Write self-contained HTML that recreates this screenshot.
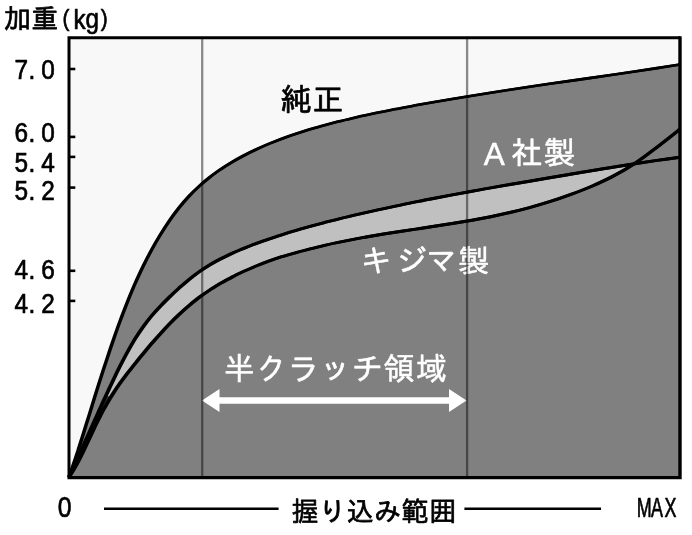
<!DOCTYPE html>
<html lang="ja">
<head>
<meta charset="utf-8">
<title>加重(kg) 握り込み範囲</title>
<style>
html,body{margin:0;padding:0;background:#fff;}
body{width:692px;height:535px;overflow:hidden;}
svg{display:block;}
text{font-family:"Liberation Sans", "IPAGothic", sans-serif;}
.ax,.jp{fill:#000;stroke:#000;stroke-width:0.7;stroke-linejoin:round;}
.w{fill:#fff;stroke:#fff;stroke-width:0.5;stroke-linejoin:round;}
</style>
</head>
<body>
<svg width="692" height="535" viewBox="0 0 692 535">
<rect x="0" y="0" width="692" height="535" fill="#ffffff"/>
<rect x="69" y="37.7" width="611" height="439.9" fill="#f8f8f8"/>
<path d="M69.0 477.0 C69.8 474.8 72.1 468.4 73.6 463.7 C75.2 459.1 76.8 454.2 78.5 449.0 C80.1 443.9 81.8 438.5 83.6 433.0 C85.3 427.4 87.1 421.6 89.0 415.7 C90.8 409.7 92.7 403.6 94.6 397.4 C96.6 391.2 98.5 384.8 100.6 378.4 C102.6 372.0 104.7 365.5 106.9 359.1 C109.0 352.6 111.2 346.0 113.5 339.5 C115.7 333.1 118.0 326.5 120.4 320.1 C122.8 313.8 125.2 307.4 127.7 301.2 C130.2 295.1 132.7 289.0 135.3 283.1 C137.9 277.2 140.6 271.5 143.3 265.9 C146.0 260.4 148.8 255.0 151.6 249.8 C154.5 244.5 157.4 239.5 160.4 234.6 C163.3 229.8 166.4 225.1 169.4 220.7 C172.5 216.2 175.7 212.0 178.9 207.9 C182.1 203.9 185.4 200.1 188.7 196.5 C192.1 192.9 195.5 189.5 199.0 186.4 C202.5 183.2 206.0 180.2 209.6 177.4 C213.2 174.5 216.9 171.9 220.6 169.3 C224.4 166.8 228.2 164.4 232.0 162.1 C235.9 159.8 239.9 157.6 243.9 155.5 C247.9 153.4 251.9 151.4 256.1 149.5 C260.2 147.6 264.4 145.7 268.7 143.9 C273.0 142.2 277.4 140.5 281.8 138.8 C286.2 137.2 290.7 135.6 295.3 134.1 C299.8 132.6 304.5 131.1 309.2 129.6 C313.9 128.2 318.6 126.8 323.5 125.5 C328.3 124.2 333.2 122.9 338.2 121.6 C343.2 120.3 348.3 119.1 353.4 117.9 C358.5 116.7 363.7 115.6 369.0 114.5 C374.3 113.3 379.7 112.2 385.1 111.2 C390.5 110.1 396.0 109.0 401.6 108.0 C407.1 106.9 412.8 105.9 418.5 104.8 C424.2 103.8 430.0 102.8 435.9 101.7 C441.7 100.7 447.7 99.7 453.7 98.7 C459.7 97.7 465.8 96.7 472.0 95.7 C478.1 94.7 484.4 93.7 490.7 92.7 C497.0 91.7 503.4 90.7 509.9 89.7 C516.4 88.8 522.9 87.8 529.5 86.8 C536.2 85.8 542.9 84.8 549.6 83.8 C556.4 82.9 563.3 81.9 570.2 80.9 C577.1 79.9 584.1 78.9 591.2 77.9 C598.3 76.8 605.5 75.8 612.7 74.7 C619.9 73.7 627.3 72.6 634.7 71.5 C642.1 70.4 649.5 69.3 657.1 68.1 C664.7 66.9 676.2 65.1 680.0 64.5 L680.0 477.6 L69.0 477.6 Z" fill="#808080"/>
<path d="M105.0 397.7 C106.3 394.9 110.1 386.6 112.7 381.1 C115.4 375.6 118.1 369.9 120.9 364.4 C123.7 359.0 126.6 353.4 129.6 348.2 C132.5 343.0 135.6 338.0 138.7 333.3 C141.8 328.6 145.0 324.2 148.3 320.0 C151.6 315.9 155.0 312.0 158.4 308.3 C161.9 304.5 165.4 301.0 169.1 297.4 C172.7 293.9 176.4 290.4 180.2 287.1 C184.0 283.7 187.9 280.3 191.9 277.2 C195.9 274.1 200.0 271.1 204.2 268.4 C208.3 265.7 212.6 263.2 217.0 260.8 C221.3 258.4 225.8 256.3 230.3 254.2 C234.8 252.1 239.5 250.1 244.2 248.2 C248.9 246.3 253.7 244.4 258.7 242.6 C263.6 240.9 268.6 239.1 273.7 237.4 C278.8 235.8 284.0 234.1 289.3 232.5 C294.6 230.9 300.0 229.3 305.5 227.7 C311.0 226.2 316.6 224.7 322.3 223.2 C328.0 221.7 333.8 220.2 339.7 218.7 C345.6 217.3 351.5 215.8 357.6 214.4 C363.7 213.0 369.9 211.6 376.2 210.2 C382.5 208.8 388.9 207.4 395.4 206.1 C401.9 204.7 408.5 203.4 415.2 202.0 C421.9 200.7 428.7 199.4 435.6 198.0 C442.5 196.7 449.5 195.4 456.7 194.1 C463.8 192.7 471.0 191.4 478.3 190.1 C485.6 188.8 493.1 187.5 500.6 186.2 C508.1 184.8 515.8 183.5 523.5 182.2 C531.3 180.9 539.1 179.5 547.1 178.2 C555.0 176.8 563.1 175.5 571.3 174.1 C579.5 172.7 587.7 171.3 596.1 170.0 C604.5 168.6 615.3 166.9 621.6 165.9 C627.9 164.8 631.9 164.3 633.9 163.9 L633.9 163.9 C630.6 165.9 621.5 171.8 613.9 175.8 C606.3 179.7 596.9 184.1 588.6 187.6 C580.3 191.1 572.1 194.1 564.0 197.0 C555.8 199.8 547.8 202.3 539.9 204.6 C532.1 207.0 524.3 209.0 516.6 210.9 C508.9 212.8 501.3 214.5 493.8 216.0 C486.4 217.6 479.0 218.9 471.7 220.2 C464.5 221.5 457.3 222.7 450.3 223.8 C443.2 224.9 436.3 226.0 429.4 227.0 C422.6 228.1 415.8 229.0 409.2 230.1 C402.6 231.1 396.0 232.1 389.6 233.1 C383.1 234.1 376.8 235.2 370.6 236.3 C364.3 237.3 358.2 238.5 352.2 239.6 C346.1 240.8 340.2 242.0 334.4 243.2 C328.6 244.5 322.8 245.8 317.2 247.1 C311.6 248.5 306.0 249.9 300.6 251.3 C295.1 252.8 289.8 254.3 284.6 255.9 C279.3 257.5 274.2 259.2 269.1 261.0 C264.1 262.8 259.1 264.7 254.3 266.7 C249.4 268.8 244.6 270.9 240.0 273.2 C235.3 275.4 230.7 277.8 226.2 280.2 C221.8 282.7 217.4 285.2 213.1 287.9 C208.8 290.6 204.6 293.4 200.4 296.5 C196.3 299.5 192.3 302.7 188.4 306.1 C184.4 309.4 180.6 313.0 176.8 316.6 C173.1 320.2 169.4 324.0 165.8 327.8 C162.2 331.5 158.7 335.4 155.3 339.3 C151.9 343.2 148.6 347.1 145.4 351.0 C142.1 354.9 139.0 358.7 135.9 362.6 C132.8 366.4 129.8 370.1 126.9 373.9 C124.0 377.8 121.2 381.6 118.4 385.6 C115.7 389.5 111.7 395.8 110.4 397.8Z" fill="#c0c0c0"/>
<path d="M69.0 477.0 C69.4 476.2 70.4 473.9 71.2 472.3 C71.9 470.8 72.6 469.2 73.4 467.6 C74.1 465.9 74.9 464.3 75.6 462.6 C76.4 461.0 77.1 459.3 77.9 457.6 C78.7 455.9 79.5 454.2 80.3 452.4 C81.1 450.7 81.9 448.9 82.7 447.1 C83.5 445.3 84.3 443.5 85.2 441.6 C86.0 439.8 86.8 437.9 87.7 436.0 C88.5 434.1 89.4 432.2 90.3 430.2 C91.2 428.3 92.1 426.3 93.0 424.3 C93.9 422.3 94.8 420.3 95.7 418.3 C96.6 416.2 97.5 414.1 98.5 412.1 C99.4 410.0 100.4 407.9 101.4 405.7 C102.3 403.6 103.6 400.9 104.3 399.3 C105.0 397.7 105.5 396.6 105.8 396.0 L111.2 396.6 C111.0 396.8 111.0 396.7 110.4 397.8 C109.7 398.9 108.3 401.2 107.3 403.0 C106.3 404.7 105.3 406.5 104.3 408.2 C103.3 410.0 102.3 411.9 101.4 413.7 C100.4 415.5 99.4 417.4 98.5 419.3 C97.5 421.2 96.6 423.1 95.7 425.0 C94.8 427.0 93.9 428.9 93.0 430.8 C92.1 432.7 91.2 434.6 90.3 436.5 C89.4 438.4 88.5 440.2 87.7 442.1 C86.8 443.9 86.0 445.7 85.2 447.5 C84.3 449.2 83.5 450.9 82.7 452.6 C81.9 454.3 81.1 455.9 80.3 457.5 C79.5 459.1 78.7 460.6 77.9 462.1 C77.1 463.6 76.4 465.0 75.6 466.4 C74.9 467.7 74.1 469.0 73.4 470.3 C72.6 471.5 71.9 472.7 71.2 473.8 C70.4 474.9 69.4 476.5 69.0 477.0Z" fill="#3a3a3a"/>
<g fill="none" stroke="#000" stroke-linejoin="round">
<g transform="translate(-0.45 0)">
<path d="M69.0 477.0 C69.8 474.8 72.1 468.4 73.6 463.7 C75.2 459.1 76.8 454.2 78.5 449.0 C80.1 443.9 81.8 438.5 83.6 433.0 C85.3 427.4 87.1 421.6 89.0 415.7 C90.8 409.7 92.7 403.6 94.6 397.4 C96.6 391.2 98.5 384.8 100.6 378.4 C102.6 372.0 104.7 365.5 106.9 359.1 C109.0 352.6 111.2 346.0 113.5 339.5 C115.7 333.1 118.0 326.5 120.4 320.1 C122.8 313.8 125.2 307.4 127.7 301.2 C130.2 295.1 132.7 289.0 135.3 283.1 C137.9 277.2 140.6 271.5 143.3 265.9 C146.0 260.4 148.8 255.0 151.6 249.8 C154.5 244.5 157.4 239.5 160.4 234.6 C163.3 229.8 166.4 225.1 169.4 220.7 C172.5 216.2 175.7 212.0 178.9 207.9 C182.1 203.9 185.4 200.1 188.7 196.5 C192.1 192.9 195.5 189.5 199.0 186.4 C202.5 183.2 206.0 180.2 209.6 177.4 C213.2 174.5 216.9 171.9 220.6 169.3 C224.4 166.8 228.2 164.4 232.0 162.1 C235.9 159.8 239.9 157.6 243.9 155.5 C247.9 153.4 251.9 151.4 256.1 149.5 C260.2 147.6 264.4 145.7 268.7 143.9 C273.0 142.2 277.4 140.5 281.8 138.8 C286.2 137.2 290.7 135.6 295.3 134.1 C299.8 132.6 304.5 131.1 309.2 129.6 C313.9 128.2 318.6 126.8 323.5 125.5 C328.3 124.2 333.2 122.9 338.2 121.6 C343.2 120.3 348.3 119.1 353.4 117.9 C358.5 116.7 363.7 115.6 369.0 114.5 C374.3 113.3 379.7 112.2 385.1 111.2 C390.5 110.1 396.0 109.0 401.6 108.0 C407.1 106.9 412.8 105.9 418.5 104.8 C424.2 103.8 430.0 102.8 435.9 101.7 C441.7 100.7 447.7 99.7 453.7 98.7 C459.7 97.7 465.8 96.7 472.0 95.7 C478.1 94.7 484.4 93.7 490.7 92.7 C497.0 91.7 503.4 90.7 509.9 89.7 C516.4 88.8 522.9 87.8 529.5 86.8 C536.2 85.8 542.9 84.8 549.6 83.8 C556.4 82.9 563.3 81.9 570.2 80.9 C577.1 79.9 584.1 78.9 591.2 77.9 C598.3 76.8 605.5 75.8 612.7 74.7 C619.9 73.7 627.3 72.6 634.7 71.5 C642.1 70.4 649.5 69.3 657.1 68.1 C664.7 66.9 676.2 65.1 680.0 64.5" stroke-width="2.6"/>
<path d="M69.0 477.0 C69.8 475.3 72.1 470.4 73.6 467.0 C75.2 463.5 76.8 460.0 78.5 456.3 C80.1 452.7 81.8 449.0 83.6 445.1 C85.3 441.2 87.1 437.3 89.0 433.2 C90.8 429.1 92.7 424.9 94.6 420.6 C96.6 416.3 98.5 411.9 100.6 407.4 C102.6 402.9 104.7 398.3 106.9 393.7 C109.0 389.0 111.2 384.3 113.5 379.6 C115.7 374.9 118.0 370.1 120.4 365.4 C122.8 360.7 125.2 356.1 127.7 351.6 C130.2 347.1 132.7 342.6 135.3 338.5 C137.9 334.3 140.6 330.4 143.3 326.6 C146.0 322.9 148.8 319.3 151.6 315.9 C154.5 312.5 157.4 309.3 160.4 306.2 C163.3 303.1 166.4 300.1 169.4 297.1 C172.5 294.1 175.7 291.1 178.9 288.2 C182.1 285.4 185.4 282.5 188.7 279.8 C192.1 277.1 195.5 274.4 199.0 271.9 C202.5 269.5 206.0 267.2 209.6 265.0 C213.2 262.8 216.9 260.8 220.6 258.9 C224.4 257.0 228.2 255.2 232.0 253.4 C235.9 251.6 239.9 250.0 243.9 248.3 C247.9 246.7 251.9 245.1 256.1 243.6 C260.2 242.0 264.4 240.6 268.7 239.1 C273.0 237.6 277.4 236.2 281.8 234.8 C286.2 233.4 290.7 232.0 295.3 230.7 C299.8 229.3 304.5 228.0 309.2 226.7 C313.9 225.4 318.6 224.1 323.5 222.8 C328.3 221.6 333.2 220.3 338.2 219.1 C343.2 217.8 348.3 216.6 353.4 215.4 C358.5 214.2 363.7 213.0 369.0 211.8 C374.3 210.6 379.7 209.4 385.1 208.3 C390.5 207.1 396.0 205.9 401.6 204.8 C407.1 203.6 412.8 202.5 418.5 201.4 C424.2 200.2 430.0 199.1 435.9 198.0 C441.7 196.9 447.7 195.7 453.7 194.6 C459.7 193.5 465.8 192.4 472.0 191.3 C478.1 190.1 484.4 189.0 490.7 187.9 C497.0 186.8 503.4 185.7 509.9 184.5 C516.4 183.4 522.9 182.3 529.5 181.2 C536.2 180.0 542.9 178.9 549.6 177.7 C556.4 176.6 563.3 175.4 570.2 174.3 C577.1 173.1 584.1 171.9 591.2 170.8 C598.3 169.6 605.5 168.4 612.7 167.3 C619.9 166.1 627.3 165.0 634.7 163.8 C642.1 162.7 649.5 161.5 657.1 160.4 C664.7 159.3 676.2 157.8 680.0 157.2" stroke-width="2.9"/>
<path d="M69.0 477.0 C69.8 475.8 72.1 472.5 73.6 469.8 C75.2 467.2 76.8 464.2 78.5 461.0 C80.1 457.8 81.8 454.4 83.6 450.8 C85.3 447.1 87.1 443.3 89.0 439.4 C90.8 435.4 92.7 431.3 94.6 427.3 C96.6 423.2 98.5 419.1 100.6 415.2 C102.6 411.2 104.7 407.4 106.9 403.7 C109.0 400.0 111.2 396.4 113.5 392.9 C115.7 389.4 118.0 386.1 120.4 382.7 C122.8 379.4 125.2 376.2 127.7 372.9 C130.2 369.7 132.7 366.5 135.3 363.3 C137.9 360.0 140.6 356.7 143.3 353.5 C146.0 350.2 148.8 346.8 151.6 343.5 C154.5 340.3 157.4 336.9 160.4 333.7 C163.3 330.4 166.4 327.1 169.4 324.0 C172.5 320.8 175.7 317.6 178.9 314.6 C182.1 311.6 185.4 308.6 188.7 305.8 C192.1 302.9 195.5 300.2 199.0 297.5 C202.5 294.9 206.0 292.5 209.6 290.1 C213.2 287.7 216.9 285.5 220.6 283.3 C224.4 281.2 228.2 279.1 232.0 277.1 C235.9 275.1 239.9 273.2 243.9 271.3 C247.9 269.5 251.9 267.7 256.1 266.0 C260.2 264.3 264.4 262.7 268.7 261.1 C273.0 259.6 277.4 258.1 281.8 256.7 C286.2 255.4 290.7 254.0 295.3 252.8 C299.8 251.5 304.5 250.3 309.2 249.1 C313.9 247.9 318.6 246.7 323.5 245.6 C328.3 244.5 333.2 243.4 338.2 242.4 C343.2 241.4 348.3 240.4 353.4 239.4 C358.5 238.4 363.7 237.5 369.0 236.5 C374.3 235.6 379.7 234.7 385.1 233.8 C390.5 232.9 396.0 232.1 401.6 231.2 C407.1 230.4 412.8 229.5 418.5 228.7 C424.2 227.8 430.0 226.9 435.9 226.0 C441.7 225.1 447.7 224.2 453.7 223.3 C459.7 222.3 465.8 221.3 472.0 220.2 C478.1 219.1 484.4 217.9 490.7 216.7 C497.0 215.4 503.4 214.0 509.9 212.5 C516.4 211.0 522.9 209.4 529.5 207.6 C536.2 205.8 542.9 203.8 549.6 201.7 C556.4 199.6 563.3 197.3 570.2 194.7 C577.1 192.2 584.1 189.6 591.2 186.5 C598.3 183.4 605.5 180.2 612.7 176.4 C619.9 172.6 627.3 168.4 634.7 163.5 C642.1 158.7 649.5 152.9 657.1 147.1 C664.7 141.4 676.2 132.2 680.0 129.2" stroke-width="2.9"/>
</g>
<g transform="translate(0.45 0)">
<path d="M69.0 477.0 C69.8 474.8 72.1 468.4 73.6 463.7 C75.2 459.1 76.8 454.2 78.5 449.0 C80.1 443.9 81.8 438.5 83.6 433.0 C85.3 427.4 87.1 421.6 89.0 415.7 C90.8 409.7 92.7 403.6 94.6 397.4 C96.6 391.2 98.5 384.8 100.6 378.4 C102.6 372.0 104.7 365.5 106.9 359.1 C109.0 352.6 111.2 346.0 113.5 339.5 C115.7 333.1 118.0 326.5 120.4 320.1 C122.8 313.8 125.2 307.4 127.7 301.2 C130.2 295.1 132.7 289.0 135.3 283.1 C137.9 277.2 140.6 271.5 143.3 265.9 C146.0 260.4 148.8 255.0 151.6 249.8 C154.5 244.5 157.4 239.5 160.4 234.6 C163.3 229.8 166.4 225.1 169.4 220.7 C172.5 216.2 175.7 212.0 178.9 207.9 C182.1 203.9 185.4 200.1 188.7 196.5 C192.1 192.9 195.5 189.5 199.0 186.4 C202.5 183.2 206.0 180.2 209.6 177.4 C213.2 174.5 216.9 171.9 220.6 169.3 C224.4 166.8 228.2 164.4 232.0 162.1 C235.9 159.8 239.9 157.6 243.9 155.5 C247.9 153.4 251.9 151.4 256.1 149.5 C260.2 147.6 264.4 145.7 268.7 143.9 C273.0 142.2 277.4 140.5 281.8 138.8 C286.2 137.2 290.7 135.6 295.3 134.1 C299.8 132.6 304.5 131.1 309.2 129.6 C313.9 128.2 318.6 126.8 323.5 125.5 C328.3 124.2 333.2 122.9 338.2 121.6 C343.2 120.3 348.3 119.1 353.4 117.9 C358.5 116.7 363.7 115.6 369.0 114.5 C374.3 113.3 379.7 112.2 385.1 111.2 C390.5 110.1 396.0 109.0 401.6 108.0 C407.1 106.9 412.8 105.9 418.5 104.8 C424.2 103.8 430.0 102.8 435.9 101.7 C441.7 100.7 447.7 99.7 453.7 98.7 C459.7 97.7 465.8 96.7 472.0 95.7 C478.1 94.7 484.4 93.7 490.7 92.7 C497.0 91.7 503.4 90.7 509.9 89.7 C516.4 88.8 522.9 87.8 529.5 86.8 C536.2 85.8 542.9 84.8 549.6 83.8 C556.4 82.9 563.3 81.9 570.2 80.9 C577.1 79.9 584.1 78.9 591.2 77.9 C598.3 76.8 605.5 75.8 612.7 74.7 C619.9 73.7 627.3 72.6 634.7 71.5 C642.1 70.4 649.5 69.3 657.1 68.1 C664.7 66.9 676.2 65.1 680.0 64.5" stroke-width="2.6"/>
<path d="M69.0 477.0 C69.8 475.3 72.1 470.4 73.6 467.0 C75.2 463.5 76.8 460.0 78.5 456.3 C80.1 452.7 81.8 449.0 83.6 445.1 C85.3 441.2 87.1 437.3 89.0 433.2 C90.8 429.1 92.7 424.9 94.6 420.6 C96.6 416.3 98.5 411.9 100.6 407.4 C102.6 402.9 104.7 398.3 106.9 393.7 C109.0 389.0 111.2 384.3 113.5 379.6 C115.7 374.9 118.0 370.1 120.4 365.4 C122.8 360.7 125.2 356.1 127.7 351.6 C130.2 347.1 132.7 342.6 135.3 338.5 C137.9 334.3 140.6 330.4 143.3 326.6 C146.0 322.9 148.8 319.3 151.6 315.9 C154.5 312.5 157.4 309.3 160.4 306.2 C163.3 303.1 166.4 300.1 169.4 297.1 C172.5 294.1 175.7 291.1 178.9 288.2 C182.1 285.4 185.4 282.5 188.7 279.8 C192.1 277.1 195.5 274.4 199.0 271.9 C202.5 269.5 206.0 267.2 209.6 265.0 C213.2 262.8 216.9 260.8 220.6 258.9 C224.4 257.0 228.2 255.2 232.0 253.4 C235.9 251.6 239.9 250.0 243.9 248.3 C247.9 246.7 251.9 245.1 256.1 243.6 C260.2 242.0 264.4 240.6 268.7 239.1 C273.0 237.6 277.4 236.2 281.8 234.8 C286.2 233.4 290.7 232.0 295.3 230.7 C299.8 229.3 304.5 228.0 309.2 226.7 C313.9 225.4 318.6 224.1 323.5 222.8 C328.3 221.6 333.2 220.3 338.2 219.1 C343.2 217.8 348.3 216.6 353.4 215.4 C358.5 214.2 363.7 213.0 369.0 211.8 C374.3 210.6 379.7 209.4 385.1 208.3 C390.5 207.1 396.0 205.9 401.6 204.8 C407.1 203.6 412.8 202.5 418.5 201.4 C424.2 200.2 430.0 199.1 435.9 198.0 C441.7 196.9 447.7 195.7 453.7 194.6 C459.7 193.5 465.8 192.4 472.0 191.3 C478.1 190.1 484.4 189.0 490.7 187.9 C497.0 186.8 503.4 185.7 509.9 184.5 C516.4 183.4 522.9 182.3 529.5 181.2 C536.2 180.0 542.9 178.9 549.6 177.7 C556.4 176.6 563.3 175.4 570.2 174.3 C577.1 173.1 584.1 171.9 591.2 170.8 C598.3 169.6 605.5 168.4 612.7 167.3 C619.9 166.1 627.3 165.0 634.7 163.8 C642.1 162.7 649.5 161.5 657.1 160.4 C664.7 159.3 676.2 157.8 680.0 157.2" stroke-width="2.9"/>
<path d="M69.0 477.0 C69.8 475.8 72.1 472.5 73.6 469.8 C75.2 467.2 76.8 464.2 78.5 461.0 C80.1 457.8 81.8 454.4 83.6 450.8 C85.3 447.1 87.1 443.3 89.0 439.4 C90.8 435.4 92.7 431.3 94.6 427.3 C96.6 423.2 98.5 419.1 100.6 415.2 C102.6 411.2 104.7 407.4 106.9 403.7 C109.0 400.0 111.2 396.4 113.5 392.9 C115.7 389.4 118.0 386.1 120.4 382.7 C122.8 379.4 125.2 376.2 127.7 372.9 C130.2 369.7 132.7 366.5 135.3 363.3 C137.9 360.0 140.6 356.7 143.3 353.5 C146.0 350.2 148.8 346.8 151.6 343.5 C154.5 340.3 157.4 336.9 160.4 333.7 C163.3 330.4 166.4 327.1 169.4 324.0 C172.5 320.8 175.7 317.6 178.9 314.6 C182.1 311.6 185.4 308.6 188.7 305.8 C192.1 302.9 195.5 300.2 199.0 297.5 C202.5 294.9 206.0 292.5 209.6 290.1 C213.2 287.7 216.9 285.5 220.6 283.3 C224.4 281.2 228.2 279.1 232.0 277.1 C235.9 275.1 239.9 273.2 243.9 271.3 C247.9 269.5 251.9 267.7 256.1 266.0 C260.2 264.3 264.4 262.7 268.7 261.1 C273.0 259.6 277.4 258.1 281.8 256.7 C286.2 255.4 290.7 254.0 295.3 252.8 C299.8 251.5 304.5 250.3 309.2 249.1 C313.9 247.9 318.6 246.7 323.5 245.6 C328.3 244.5 333.2 243.4 338.2 242.4 C343.2 241.4 348.3 240.4 353.4 239.4 C358.5 238.4 363.7 237.5 369.0 236.5 C374.3 235.6 379.7 234.7 385.1 233.8 C390.5 232.9 396.0 232.1 401.6 231.2 C407.1 230.4 412.8 229.5 418.5 228.7 C424.2 227.8 430.0 226.9 435.9 226.0 C441.7 225.1 447.7 224.2 453.7 223.3 C459.7 222.3 465.8 221.3 472.0 220.2 C478.1 219.1 484.4 217.9 490.7 216.7 C497.0 215.4 503.4 214.0 509.9 212.5 C516.4 211.0 522.9 209.4 529.5 207.6 C536.2 205.8 542.9 203.8 549.6 201.7 C556.4 199.6 563.3 197.3 570.2 194.7 C577.1 192.2 584.1 189.6 591.2 186.5 C598.3 183.4 605.5 180.2 612.7 176.4 C619.9 172.6 627.3 168.4 634.7 163.5 C642.1 158.7 649.5 152.9 657.1 147.1 C664.7 141.4 676.2 132.2 680.0 129.2" stroke-width="2.9"/>
</g>
</g>
<path d="M69 477.6V37.7H680" fill="none" stroke="#000" stroke-width="3"/>
<path d="M67.5 477.6H680V36.2" fill="none" stroke="#000" stroke-width="3.4" stroke-linejoin="miter"/>
<g stroke="#000" stroke-width="2.6">
<line x1="69" y1="69" x2="75.3" y2="69"/>
<line x1="69" y1="136.9" x2="75.3" y2="136.9"/>
<line x1="69" y1="156.9" x2="75.3" y2="156.9"/>
<line x1="69" y1="187.6" x2="75.3" y2="187.6"/>
<line x1="69" y1="270.8" x2="75.3" y2="270.8"/>
<line x1="69" y1="300.9" x2="75.3" y2="300.9"/>
</g>
<polygon fill="#fff" points="202,400.5 219.5,389 219.5,397.2 449,397.2 449,389 466.5,400.5 449,412 449,403.8 219.5,403.8 219.5,412"/>
<g stroke="#000" stroke-width="2.4">
<line x1="104" y1="508.8" x2="278.6" y2="508.8"/>
<line x1="464.4" y1="508.8" x2="601" y2="508.8"/>
</g>
<text class="jp" transform="matrix(1.0 0 0 1.0 0 27.6)" x="3.80 31.40" y="0" font-size="27">加重</text>
<text class="ax" transform="matrix(0.85 0 0 1 0 0)" font-size="28.5"><tspan x="73.6" y="25.6" font-size="24.5">(</tspan><tspan x="86.4 100.5" y="28.9 27.6">kg</tspan><tspan x="118.4" y="25.6" font-size="24.5">)</tspan></text>
<text class="ax" transform="matrix(0.87 0 0 1.0 0 79.3)" x="16.55 32.87 47.47" y="0" font-size="28">7.0</text>
<text class="ax" transform="matrix(0.87 0 0 1.0 0 141.7)" x="16.55 32.87 47.47" y="0" font-size="28">6.0</text>
<text class="ax" transform="matrix(0.87 0 0 1.0 0 172.4)" x="16.55 32.87 47.47" y="0" font-size="28">5.4</text>
<text class="ax" transform="matrix(0.87 0 0 1.0 0 199.7)" x="16.55 32.87 47.47" y="0" font-size="28">5.2</text>
<text class="ax" transform="matrix(0.87 0 0 1.0 0 278.5)" x="16.55 32.87 47.47" y="0" font-size="28">4.6</text>
<text class="ax" transform="matrix(0.87 0 0 1.0 0 313.4)" x="16.55 32.87 47.47" y="0" font-size="28">4.2</text>
<text class="ax" transform="matrix(0.84 0 0 1.0 0 517.2)" x="68.81" y="0" font-size="29.5">0</text>
<text class="ax" transform="matrix(0.64 0 0 1.0 0 516.9)" x="995.00 1017.19 1038.28" y="0" font-size="28" stroke-width="2">MAX</text>
<text class="jp" transform="matrix(1.0 0 0 1.0 0 520.5)" x="291.50 319.00 346.50 374.00 401.50 429.00" y="0" font-size="27">握り込み範囲</text>
<text class="jp" transform="matrix(1.0 0 0 1.0 0 110.5)" x="280.30 312.30" y="0" font-size="31.5">純正</text>
<text class="w" x="483.8 511.0 543.8" y="164.6 164.2 164.2" font-size="31.5">A社製</text>
<text class="w" x="360.5 396.5 426.0 458.4" y="272.4" font-size="31">キジマ製</text>
<text class="w" transform="matrix(1.0 0 0 1.0 0 379.8)" x="223.80 255.80 287.80 319.80 351.80 383.80 415.80" y="0" font-size="31.2">半クラッチ領域</text>
<line x1="202.2" y1="37.7" x2="202.2" y2="477.6" stroke="#000" stroke-opacity="0.45" stroke-width="2.3"/>
<line x1="467.1" y1="37.7" x2="467.1" y2="477.6" stroke="#000" stroke-opacity="0.45" stroke-width="2.3"/>
</svg>
</body>
</html>
